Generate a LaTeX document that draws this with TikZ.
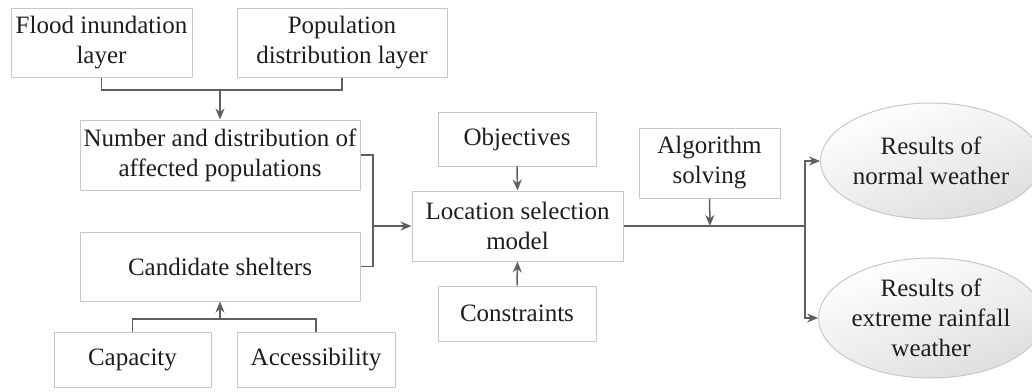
\documentclass[tikz,border=0pt]{standalone}
\usepackage{fontspec}
\setmainfont{Liberation Serif}
\usetikzlibrary{arrows.meta,shapes.geometric}
\definecolor{boxline}{RGB}{200,200,200}
\definecolor{conn}{RGB}{95,95,95}
\definecolor{txt}{RGB}{30,30,30}
\definecolor{ellfill}{RGB}{222,222,222}
\begin{document}
\begin{tikzpicture}[x=0.5pt,y=-0.5pt,
  every node/.style={font=\fontsize{12.5}{15}\selectfont, text=txt, align=center, inner sep=0pt},
  box/.style={draw=boxline, line width=0.5pt, fill=white, rectangle},
  ell/.style={ellipse, draw=boxline, line width=0.5pt, top color=white, bottom color=ellfill, shading angle=20},
  link/.style={draw=conn, line width=0.75pt},
  arr/.style={link, -{Stealth[length=5.5pt,width=4.5pt]}}]
\useasboundingbox (0,0) rectangle (1032,391);
\node[box, minimum width=90.5pt, minimum height=34.5pt] (flood) at (101.5,42.5) {Flood inundation\\layer};
\node[box, minimum width=105pt, minimum height=34.5pt] (pop) at (342,42.5) {Population\\distribution layer};
\node[box, minimum width=140pt, minimum height=35pt] (num) at (220,155) {Number and distribution of\\affected populations};
\node[box, minimum width=140pt, minimum height=34.5pt] (cand) at (220,266.5) {Candidate shelters};
\node[box, minimum width=78.5pt, minimum height=27.5pt] (cap) at (132.5,359.5) {Capacity};
\node[box, minimum width=79pt, minimum height=27.5pt] (acc) at (316,359.5) {Accessibility};
\node[box, minimum width=79pt, minimum height=27pt] (obj) at (517,139) {Objectives};
\node[box, minimum width=105.5pt, minimum height=35pt] (loc) at (517.5,226) {Location selection\\model};
\node[box, minimum width=79pt, minimum height=27.5pt] (con) at (517,313.5) {Constraints};
\node[box, minimum width=70.5pt, minimum height=35pt] (alg) at (709.5,163) {Algorithm\\solving};
\node[ell, minimum width=99pt, minimum height=58pt] (e1) at (931,161) {Results of\\normal weather};
\node[ell, minimum width=99pt, minimum height=60pt] (e2) at (931,318) {Results of\\extreme rainfall\\weather};
\coordinate (j1) at (220,90);
\coordinate (j2) at (373,226);
\coordinate (j3) at (220,319);
\coordinate (j4) at (710,226);
\coordinate (j5) at (805,226);
\draw[link] (flood.south) |- (j1) -| (pop.south);
\draw[arr] (j1) -- (num.north);
\draw[link] (num.east) -| (j2) |- (cand.east);
\draw[arr] (j2) -- (loc.west);
\draw[link] (cap.north) |- (j3) -| (acc.north);
\draw[arr] (j3) -- (cand.south);
\draw[arr] (obj.south) -- (loc.north);
\draw[arr] (con.north) -- (loc.south);
\draw[link] (loc.east) -- (j5);
\draw[arr] (alg.south) -- (j4);
\draw[arr] (j5) |- (e1.west);
\draw[arr] (j5) |- (e2.west);
\end{tikzpicture}
\end{document}
